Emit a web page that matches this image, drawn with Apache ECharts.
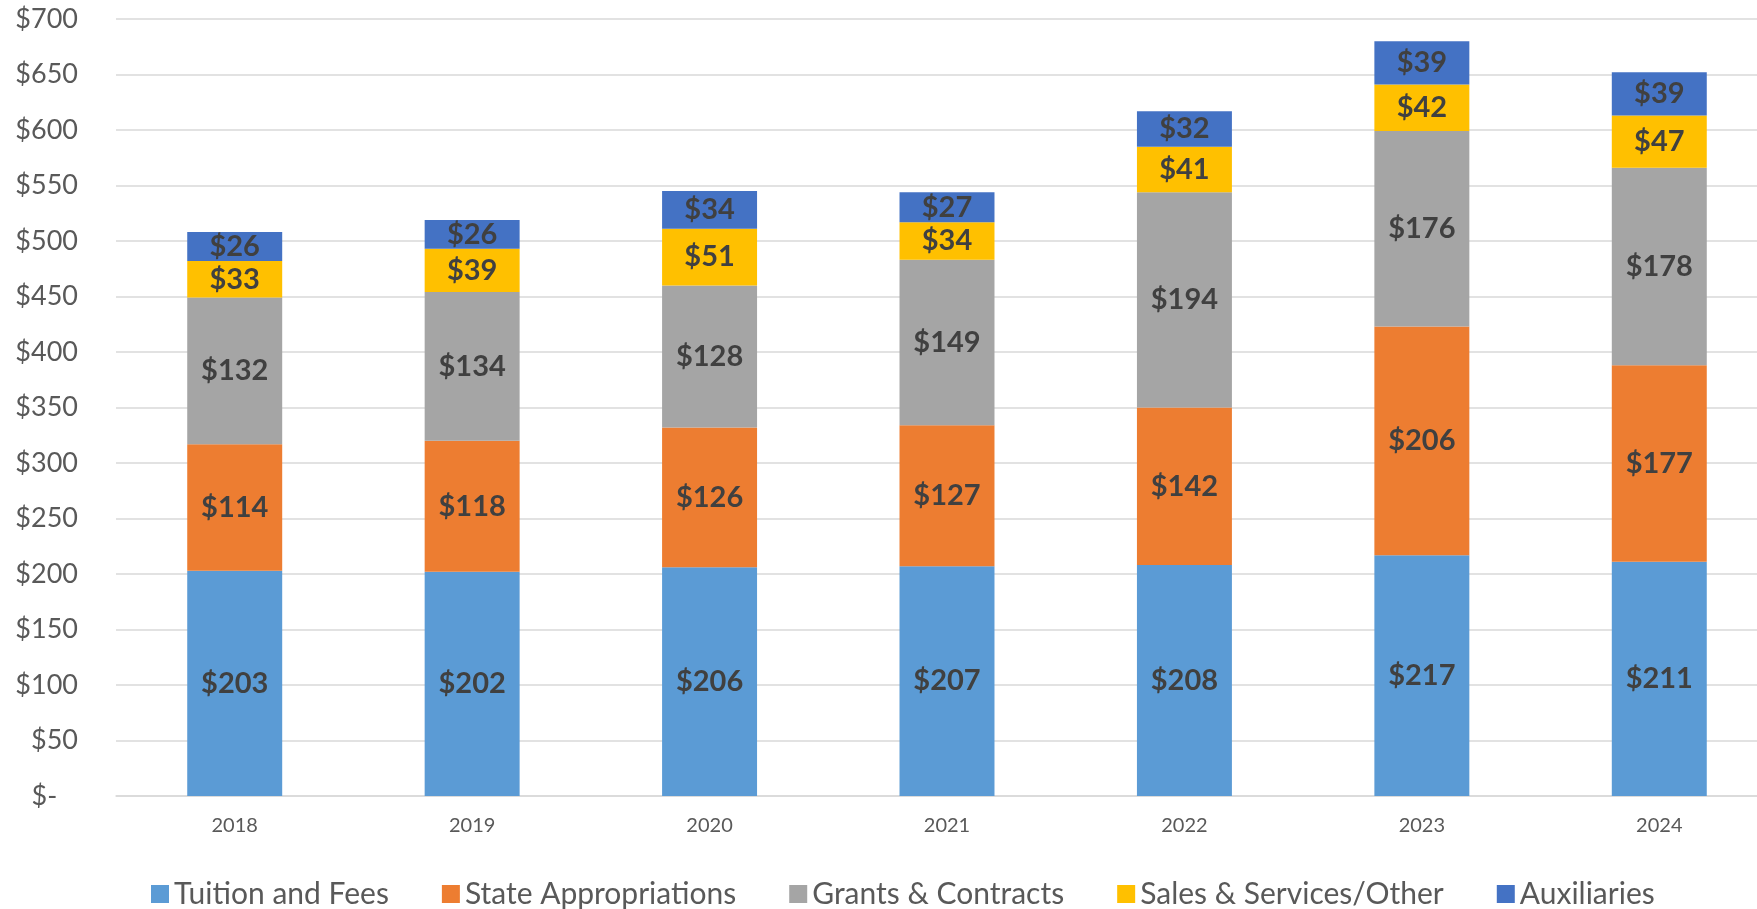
<!DOCTYPE html>
<html>
<head>
<meta charset="utf-8">
<title>Revenue by source</title>
<script src="https://cdn.jsdelivr.net/npm/echarts@6/dist/echarts.min.js"></script>
<style>
  html, body { margin: 0; padding: 0; background: #fff; }
  #chart { width: 1757px; height: 909px; }
</style>
</head>
<body>
<div id="chart"></div>
<script>
  // data
  var years = ['2018', '2019', '2020', '2021', '2022', '2023', '2024'];
  var tuition = [203, 202, 206, 207, 208, 217, 211];
  var stateApprop = [114, 118, 126, 127, 142, 206, 177];
  var grants = [132, 134, 128, 149, 194, 176, 178];
  var sales = [33, 39, 51, 34, 41, 42, 47];
  var auxiliaries = [26, 26, 34, 27, 32, 39, 39];

  var font = 'Lato, "Open Sans", sans-serif';

  var chart = echarts.init(document.getElementById('chart'));

  function makeSeries(name, data, color) {
    return {
      name: name,
      type: 'bar',
      stack: 'total',
      barWidth: '40%',
      data: data,
      itemStyle: { color: color },
      label: {
        show: true,
        position: 'inside',
        formatter: function (p) { return '$' + p.value; },
        fontFamily: font,
        fontWeight: 'bold',
        fontSize: 29,
        color: '#404040'
      }
    };
  }

  var option = {
    animation: false,
    backgroundColor: '#FFFFFF',
    textStyle: { fontFamily: font },
    // plot area runs a little past the right edge, as in the original
    grid: {
      left: 116,
      width: 1662,
      top: 19,
      bottom: 113,
      outerBoundsMode: 'none'
    },
    legend: {
      bottom: -5,
      left: 146,
      icon: 'rect',
      itemWidth: 18,
      itemHeight: 18,
      itemGap: 53,
      textStyle: { fontFamily: font, fontSize: 30, color: '#595959' },
      data: ['Tuition and Fees', 'State Appropriations', 'Grants & Contracts', 'Sales & Services/Other', 'Auxiliaries']
    },
    xAxis: {
      type: 'category',
      data: years,
      axisTick: { show: false },
      axisLine: { lineStyle: { color: '#D9D9D9', width: 1.5 } },
      axisLabel: { fontFamily: font, fontSize: 20, color: '#595959', margin: 20 }
    },
    yAxis: {
      type: 'value',
      min: 0,
      max: 700,
      interval: 50,
      axisLine: { show: false },
      axisTick: { show: false },
      splitLine: { lineStyle: { color: '#D9D9D9', width: 1.5 } },
      axisLabel: {
        fontFamily: font,
        fontSize: 27,
        color: '#595959',
        margin: 38,
        formatter: function (v) { return v === 0 ? '$-   ' : '$' + v; }
      }
    },
    series: [
      makeSeries('Tuition and Fees', tuition, '#5B9BD5'),
      makeSeries('State Appropriations', stateApprop, '#ED7D31'),
      makeSeries('Grants & Contracts', grants, '#A5A5A5'),
      makeSeries('Sales & Services/Other', sales, '#FFC000'),
      makeSeries('Auxiliaries', auxiliaries, '#4472C4')
    ]
  };

  chart.setOption(option);
</script>
</body>
</html>
